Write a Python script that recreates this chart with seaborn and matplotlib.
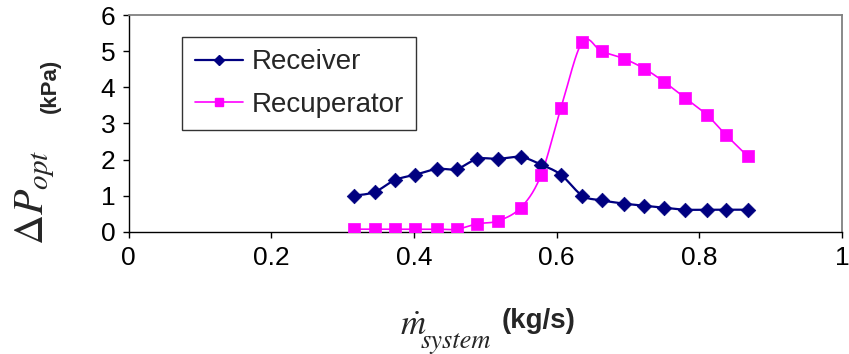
import numpy as np
import matplotlib
matplotlib.use("Agg")
import matplotlib.pyplot as plt
from matplotlib.lines import Line2D
import seaborn as sns

# -------------------------
# Data
# -------------------------
mass_flow = [0.316, 0.345, 0.373, 0.402, 0.432, 0.460, 0.489, 0.518, 0.550, 0.578,
             0.606, 0.636, 0.663, 0.694, 0.723, 0.751, 0.780, 0.811, 0.837, 0.868]
receiver = [1.00, 1.10, 1.43, 1.58, 1.74, 1.74, 2.02, 2.02, 2.07, 1.86,
            1.58, 1.00, 0.87, 0.78, 0.72, 0.66, 0.61, 0.61, 0.61, 0.61]
recuperator = [0.07, 0.07, 0.07, 0.07, 0.07, 0.07, 0.22, 0.30, 0.67, 1.56,
               3.42, 5.26, 5.00, 4.80, 4.52, 4.15, 3.71, 3.23, 2.69, 2.09]
series_names = ["Receiver", "Recuperator"]
x_ticks = [0, 0.2, 0.4, 0.6, 0.8, 1.0]
x_tick_labels = ["0", "0.2", "0.4", "0.6", "0.8", "1"]
y_ticks = [0, 1, 2, 3, 4, 5, 6]
y_tick_labels = ["0", "1", "2", "3", "4", "5", "6"]


# Excel-style smoothed line (cubic Bezier, tension 1/6)
def smooth(xs, ys, n=24):
    p = np.column_stack([xs, ys])
    pe = np.vstack([p[0], p, p[-1]])
    t = np.linspace(0, 1, n)[:, None]
    parts = []
    for i in range(len(p) - 1):
        p0, p1, p2, p3 = pe[i], pe[i + 1], pe[i + 2], pe[i + 3]
        c1 = p1 + (p2 - p0) / 6
        c2 = p2 - (p3 - p1) / 6
        parts.append((1 - t) ** 3 * p1 + 3 * (1 - t) ** 2 * t * c1
                     + 3 * (1 - t) * t ** 2 * c2 + t ** 3 * p2)
    s = np.vstack(parts)
    return s[:, 0], s[:, 1]


sns.set_theme(style="white")
plt.rcParams["font.family"] = ["Liberation Sans", "DejaVu Sans"]
plt.rcParams["mathtext.fontset"] = "stix"

W, H = 849, 354
fig = plt.figure(figsize=(W / 100, H / 100), dpi=100)
ax = fig.add_axes([128.5 / W, (H - 231.7) / H, (842 - 128.5) / W, (231.7 - 15.3) / H])

styles = [
    dict(color="#000080", marker="D", s=55, lw=1.6),
    dict(color="#FF00FF", marker="s", s=70, lw=1.2),
]
handles = []
for name, ys, st in zip(series_names, [receiver, recuperator], styles):
    sx, sy = smooth(mass_flow, ys)
    sns.lineplot(x=sx, y=sy, sort=False, estimator=None, color=st["color"],
                 lw=st["lw"], ax=ax)
    sns.scatterplot(x=mass_flow, y=ys, marker=st["marker"], s=st["s"],
                    color=st["color"], edgecolor=st["color"], linewidth=0.5,
                    ax=ax, zorder=3)
    handles.append(Line2D([], [], color=st["color"], lw=st["lw"], marker=st["marker"],
                          markersize=np.sqrt(st["s"]) * 0.75, label=name))

ax.set_xlim(0, 1)
ax.set_ylim(0, 6)
ax.set_xticks(x_ticks)
ax.set_xticklabels(x_tick_labels)
ax.set_yticks(y_ticks)
ax.set_yticklabels(y_tick_labels)
ax.tick_params(axis="both", which="both", direction="out", length=4.5, width=1,
               color="black", labelsize=19, labelcolor="black", left=True, bottom=True)
ax.tick_params(axis="x", pad=6)
ax.tick_params(axis="y", pad=5)
ax.set_xlabel("")
ax.set_ylabel("")
for side in ["left", "bottom"]:
    ax.spines[side].set_color("black")
    ax.spines[side].set_linewidth(1.0)
for side in ["top", "right"]:
    ax.spines[side].set_color("#808080")
    ax.spines[side].set_linewidth(1.3)
ax.grid(False)

leg = ax.legend(handles=handles, loc="upper left", bbox_to_anchor=(0.075, 0.90),
                borderaxespad=0, fontsize=20, frameon=True, fancybox=False,
                edgecolor="black", handlelength=1.75, handletextpad=0.3,
                labelspacing=0.58, borderpad=0.45)
leg.get_frame().set_linewidth(1.0)

# axis labels built from pieces (math part + bold unit)
fig.text(43 / W, 1 - 245 / H, r"$\Delta P_{opt}$", rotation=90, rotation_mode="anchor",
         ha="left", va="baseline", fontsize=30)
fig.text(50 / W, 1 - 86 / H, "(kPa)", rotation=90, ha="center", va="center",
         fontsize=16, fontweight="bold")
fig.text(400 / W, 1 - 335 / H, r"$\dot{m}$", ha="left", va="baseline", fontsize=25)
fig.text(421 / W, 1 - 348 / H, "system", ha="left", va="baseline", fontsize=19,
         family="STIXGeneral", style="italic")
fig.text(539 / W, 1 - 321 / H, "(kg/s)", ha="center", va="center",
         fontsize=20, fontweight="bold")

fig.savefig("out.png", dpi=100)
